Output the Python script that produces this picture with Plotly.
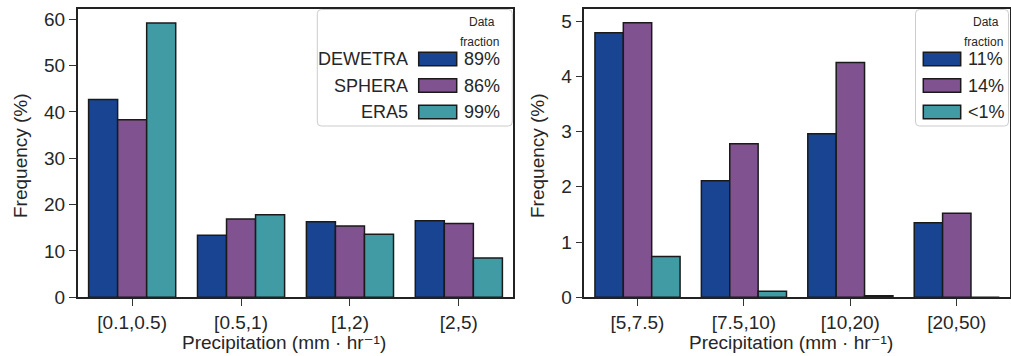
import plotly.graph_objects as go

# ---- data -------------------------------------------------------------
series_names = ["DEWETRA", "SPHERA", "ERA5"]
series_colors = ["#184491", "#80528f", "#409ba5"]

bins_low = ["[0.1,0.5)", "[0.5,1)", "[1,2)", "[2,5)"]
dewetra_low = [42.7, 13.4, 16.3, 16.5]
sphera_low = [38.3, 16.9, 15.4, 15.9]
era5_low = [59.2, 17.8, 13.6, 8.5]
fraction_low = ["89%", "86%", "99%"]

bins_high = ["[5,7.5)", "[7.5,10)", "[10,20)", "[20,50)"]
dewetra_high = [4.79, 2.11, 2.96, 1.35]
sphera_high = [4.97, 2.78, 4.25, 1.52]
era5_high = [0.74, 0.11, 0.03, 0.0]
fraction_high = ["11%", "14%", "<1%"]

yticks_low = [0, 10, 20, 30, 40, 50, 60]
yticks_high = [0, 1, 2, 3, 4, 5]

x_title = "Precipitation (mm · hr⁻¹)"
y_title = "Frequency (%)"

# ---- page geometry (pixels) ------------------------------------------
W, H = 1011, 356
FONT = "Liberation Sans, Arial, Helvetica, DejaVu Sans, sans-serif"
TEXT = "#262626"
EDGE = "#1a1a1a"


def fx(x):
    return x / W


def fy(y):
    return 1 - y / H


fig = go.Figure()

panels = [
    (bins_low, [dewetra_low, sphera_low, era5_low], "x", "y"),
    (bins_high, [dewetra_high, sphera_high, era5_high], "x2", "y2"),
]
for cats, values, xa, ya in panels:
    for name, color, vals in zip(series_names, series_colors, values):
        fig.add_trace(go.Bar(
            x=cats, y=vals, name=name, xaxis=xa, yaxis=ya,
            marker=dict(color=color, line=dict(color=EDGE, width=1.5)),
            showlegend=False,
        ))

axis_common = dict(
    showline=True, linecolor="#222222", linewidth=1.5, mirror=True,
    ticks="outside", ticklen=7, tickwidth=1.3, tickcolor="#333333",
    showgrid=False, zeroline=False, automargin=False,
    tickfont=dict(family=FONT, size=19, color=TEXT),
)

y_bottom, y_top = fy(297.3), fy(9)
fig.update_layout(
    template="none",
    width=W, height=H, autosize=False,
    margin=dict(l=0, r=0, t=0, b=0, pad=0),
    paper_bgcolor="white", plot_bgcolor="white",
    barmode="group", bargap=0.2, bargroupgap=0,
    font=dict(family=FONT, color=TEXT),
    xaxis=dict(domain=[fx(77.7), fx(513.3)], anchor="y", type="category",
               range=[-0.5, 3.5], ticklabelstandoff=0, **axis_common),
    yaxis=dict(domain=[y_bottom, y_top], anchor="x", range=[0, 62.2],
               tickvals=yticks_low, **axis_common),
    xaxis2=dict(domain=[fx(584.3), fx(1010)], anchor="y2", type="category",
                range=[-0.5, 3.5], ticklabelstandoff=0, **axis_common),
    yaxis2=dict(domain=[y_bottom, y_top], anchor="x2", range=[0, 5.22],
                tickvals=yticks_high, **axis_common),
)

annotations = []
shapes = []

# axis titles
for cx in (284, 791):
    annotations.append(dict(
        x=fx(cx), y=fy(342), xref="paper", yref="paper", text=x_title,
        showarrow=False, xanchor="center", yanchor="middle",
        font=dict(family=FONT, size=19, color=TEXT)))
for cx in (20, 537):
    annotations.append(dict(
        x=fx(cx), y=fy(156), xref="paper", yref="paper", text=y_title,
        textangle=-90, showarrow=False, xanchor="center", yanchor="middle",
        font=dict(family=FONT, size=19, color=TEXT)))


def rounded_box(x0, y0, x1, y1, r=4):
    X0, X1 = fx(x0), fx(x1)
    Y0, Y1 = fy(y0), fy(y1)
    rx, ry = r / W, r / H
    return (f"M {X0 + rx},{Y0} L {X1 - rx},{Y0} Q {X1},{Y0} {X1},{Y0 - ry} "
            f"L {X1},{Y1 + ry} Q {X1},{Y1} {X1 - rx},{Y1} "
            f"L {X0 + rx},{Y1} Q {X0},{Y1} {X0},{Y1 + ry} "
            f"L {X0},{Y0 - ry} Q {X0},{Y0} {X0 + rx},{Y0} Z")


# legends: (box left, box right, patch left, patch right, title x, names shown, fractions)
legends = [
    (317.3, 512.3, 418.7, 456.7, 482, True, fraction_low),
    (915.5, 1008.5, 923.3, 960.7, 986, False, fraction_high),
]
row_y = [59, 85.5, 112]
for bx0, bx1, px0, px1, tx, with_names, fracs in legends:
    shapes.append(dict(
        type="path", path=rounded_box(bx0, 9.5, bx1, 126), xref="paper",
        yref="paper", fillcolor="rgba(255,255,255,0.8)",
        line=dict(color="#cccccc", width=1), layer="above"))
    annotations.append(dict(
        x=fx(tx), y=fy(22), xref="paper", yref="paper", text="Data",
        showarrow=False, xanchor="center", yanchor="middle",
        font=dict(family=FONT, size=12, color=TEXT)))
    annotations.append(dict(
        x=fx(tx - 3), y=fy(42), xref="paper", yref="paper", text="fraction",
        showarrow=False, xanchor="center", yanchor="middle",
        font=dict(family=FONT, size=12, color=TEXT)))
    for ry, name, color, frac in zip(row_y, series_names, series_colors, fracs):
        shapes.append(dict(
            type="rect", xref="paper", yref="paper",
            x0=fx(px0), x1=fx(px1), y0=fy(ry - 6.8), y1=fy(ry + 6.8),
            fillcolor=color, line=dict(color=EDGE, width=1.5), layer="above"))
        annotations.append(dict(
            x=fx(px1 + 5), y=fy(ry), xref="paper", yref="paper", text=frac,
            showarrow=False, xanchor="left", yanchor="middle",
            font=dict(family=FONT, size=18, color=TEXT)))
        if with_names:
            annotations.append(dict(
                x=fx(px0 - 9), y=fy(ry), xref="paper", yref="paper",
                text=name, showarrow=False, xanchor="right",
                yanchor="middle",
                font=dict(family=FONT, size=18, color=TEXT)))

fig.update_layout(annotations=annotations, shapes=shapes)
fig.write_html("out.html")
